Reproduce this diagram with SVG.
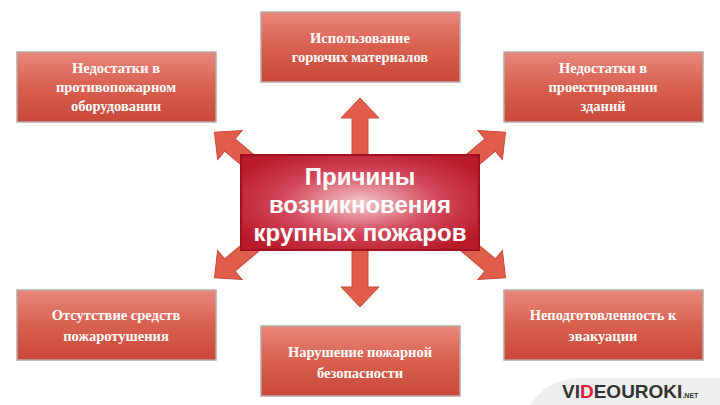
<svg xmlns="http://www.w3.org/2000/svg" width="720" height="405" viewBox="0 0 720 405">
<defs>
<linearGradient id="bx" x1="0" y1="0" x2="0" y2="1">
<stop offset="0" stop-color="#e8877d"/><stop offset="0.5" stop-color="#d9604f"/><stop offset="1" stop-color="#c8473a"/>
</linearGradient>
<radialGradient id="cg" cx="0.5" cy="0.5" r="0.6">
<stop offset="0" stop-color="#f4c9c9"/><stop offset="0.55" stop-color="#d2465a"/><stop offset="1" stop-color="#b81a2a"/>
</radialGradient>
<style>
.b{fill:url(#bx);stroke:#b9a9a6;stroke-width:1.5}
.t{font-family:"Liberation Serif",serif;font-size:14.5px;font-weight:bold;fill:#fff;text-anchor:middle}
.c{font-family:"Liberation Sans",sans-serif;font-size:24px;font-weight:bold;fill:#fff;text-anchor:middle}
.a{fill:#e05c4b;stroke:#c94a3c;stroke-width:1}
</style>
<polygon id="ar" points="-8,0 -8,-42 -19,-42 0,-62 19,-42 8,-42 8,0"/>
</defs>
<rect width="720" height="405" fill="#fff"/>
<g id="connectors">
<use href="#ar" class="a" transform="translate(360,160)"/>
<use href="#ar" class="a" transform="translate(360,245) rotate(180)"/>
<use href="#ar" class="a" transform="translate(262,172) rotate(-50)"/>
<use href="#ar" class="a" transform="translate(458,172) rotate(50)"/>
<use href="#ar" class="a" transform="translate(262,238) rotate(-130)"/>
<use href="#ar" class="a" transform="translate(458,238) rotate(130)"/>
</g>
<g id="center">
<rect x="241" y="155" width="238" height="95" fill="url(#cg)" stroke="#a01020" stroke-width="2"/>
<text class="c" x="360" y="185">Причины</text>
<text class="c" x="360" y="213">возникновения</text>
<text class="c" x="360" y="241">крупных пожаров</text>
</g>
<g id="n1"><rect class="b" x="261" y="12" width="199" height="70"/>
<text class="t" x="360" y="43">Использование</text><text class="t" x="360" y="62">горючих материалов</text></g>
<g id="n2"><rect class="b" x="17" y="52" width="199" height="70"/>
<text class="t" x="116" y="73">Недостатки в</text><text class="t" x="116" y="92">противопожарном</text><text class="t" x="116" y="111">оборудовании</text></g>
<g id="n3"><rect class="b" x="504" y="52" width="199" height="70"/>
<text class="t" x="603" y="73">Недостатки в</text><text class="t" x="603" y="92">проектировании</text><text class="t" x="603" y="111">зданий</text></g>
<g id="n4"><rect class="b" x="17" y="290" width="199" height="70"/>
<text class="t" x="116" y="320">Отсутствие средств</text><text class="t" x="116" y="341">пожаротушения</text></g>
<g id="n5"><rect class="b" x="261" y="326" width="199" height="70"/>
<text class="t" x="360" y="357">Нарушение пожарной</text><text class="t" x="360" y="378">безопасности</text></g>
<g id="n6"><rect class="b" x="504" y="290" width="199" height="70"/>
<text class="t" x="603" y="320">Неподготовленность к</text><text class="t" x="603" y="341">эвакуации</text></g>
<g id="logo">
<path d="M530,405 Q545,380 580,378 L720,378 L720,405 Z" fill="#eeeeee"/>
<text x="562" y="398" font-family="Liberation Sans,sans-serif" font-size="19" font-weight="bold" fill="#333">VI<tspan fill="#e0203a">D</tspan>EOUROKI<tspan font-size="7">.NET</tspan></text>
</g>
</svg>
